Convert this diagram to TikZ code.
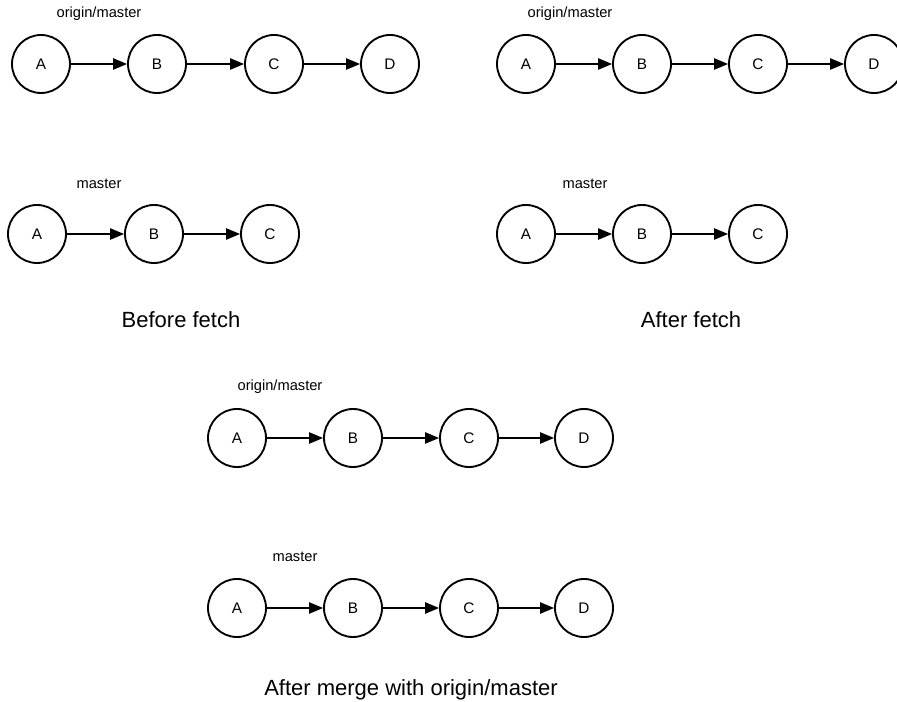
\documentclass[tikz,border=0pt]{standalone}
\usepackage{fontspec}
\setmainfont{Liberation Sans}
\usetikzlibrary{arrows.meta}
\tikzset{
	commit/.style={draw, circle, line width=1.4pt, minimum size=43.5pt, inner sep=0pt, font=\fontsize{11.5}{13}\selectfont},
	branch/.style={font=\fontsize{11}{13}\selectfont},
	caption/.style={font=\fontsize{16.5}{19}\selectfont},
	link/.style={line width=1pt, -{Triangle[length=10.5pt,width=8.5pt]}}
}

\begin{document}
\begin{tikzpicture}[x=0.75pt, y=-0.75pt]
		%%%%% START %%%%%
		\useasboundingbox (0, 0) rectangle (897, 702);
		
		% before fetch
		\node[branch] (bo) at (99, 14) {origin/master};
		\node[commit] (boA) at (41, 64) {A};
		\node[commit] (boB) at (157, 64) {B};
		\node[commit] (boC) at (274, 64) {C};
		\node[commit] (boD) at (390, 64) {D};
		\draw[link] (boA) -- (boB);
		\draw[link] (boB) -- (boC);
		\draw[link] (boC) -- (boD);
		
		\node[branch] (bm) at (99, 184) {master};
		\node[commit] (bmA) at (37, 234) {A};
		\node[commit] (bmB) at (154, 234) {B};
		\node[commit] (bmC) at (270, 234) {C};
		\draw[link] (bmA) -- (bmB);
		\draw[link] (bmB) -- (bmC);
		
		\node[caption] (bcap) at (181, 320) {Before fetch};
		
		% after fetch
		\node[branch] (ao) at (570, 14) {origin/master};
		\node[commit] (aoA) at (526, 64) {A};
		\node[commit] (aoB) at (642, 64) {B};
		\node[commit] (aoC) at (758, 64) {C};
		\node[commit] (aoD) at (874, 64) {D};
		\draw[link] (aoA) -- (aoB);
		\draw[link] (aoB) -- (aoC);
		\draw[link] (aoC) -- (aoD);
		
		\node[branch] (am) at (585, 184) {master};
		\node[commit] (amA) at (526, 234) {A};
		\node[commit] (amB) at (642, 234) {B};
		\node[commit] (amC) at (758, 234) {C};
		\draw[link] (amA) -- (amB);
		\draw[link] (amB) -- (amC);
		
		\node[caption] (acap) at (691, 320) {After fetch};
		
		% after merge
		\node[branch] (mo) at (280, 387) {origin/master};
		\node[commit] (moA) at (237, 438) {A};
		\node[commit] (moB) at (353, 438) {B};
		\node[commit] (moC) at (469, 438) {C};
		\node[commit] (moD) at (584, 438) {D};
		\draw[link] (moA) -- (moB);
		\draw[link] (moB) -- (moC);
		\draw[link] (moC) -- (moD);
		
		\node[branch] (mm) at (295, 557) {master};
		\node[commit] (mmA) at (237, 608) {A};
		\node[commit] (mmB) at (353, 608) {B};
		\node[commit] (mmC) at (469, 608) {C};
		\node[commit] (mmD) at (584, 608) {D};
		\draw[link] (mmA) -- (mmB);
		\draw[link] (mmB) -- (mmC);
		\draw[link] (mmC) -- (mmD);
		
		\node[caption] (mcap) at (411, 690) {After merge with origin/master};
		%%%%% END %%%%%
\end{tikzpicture}
\end{document}
